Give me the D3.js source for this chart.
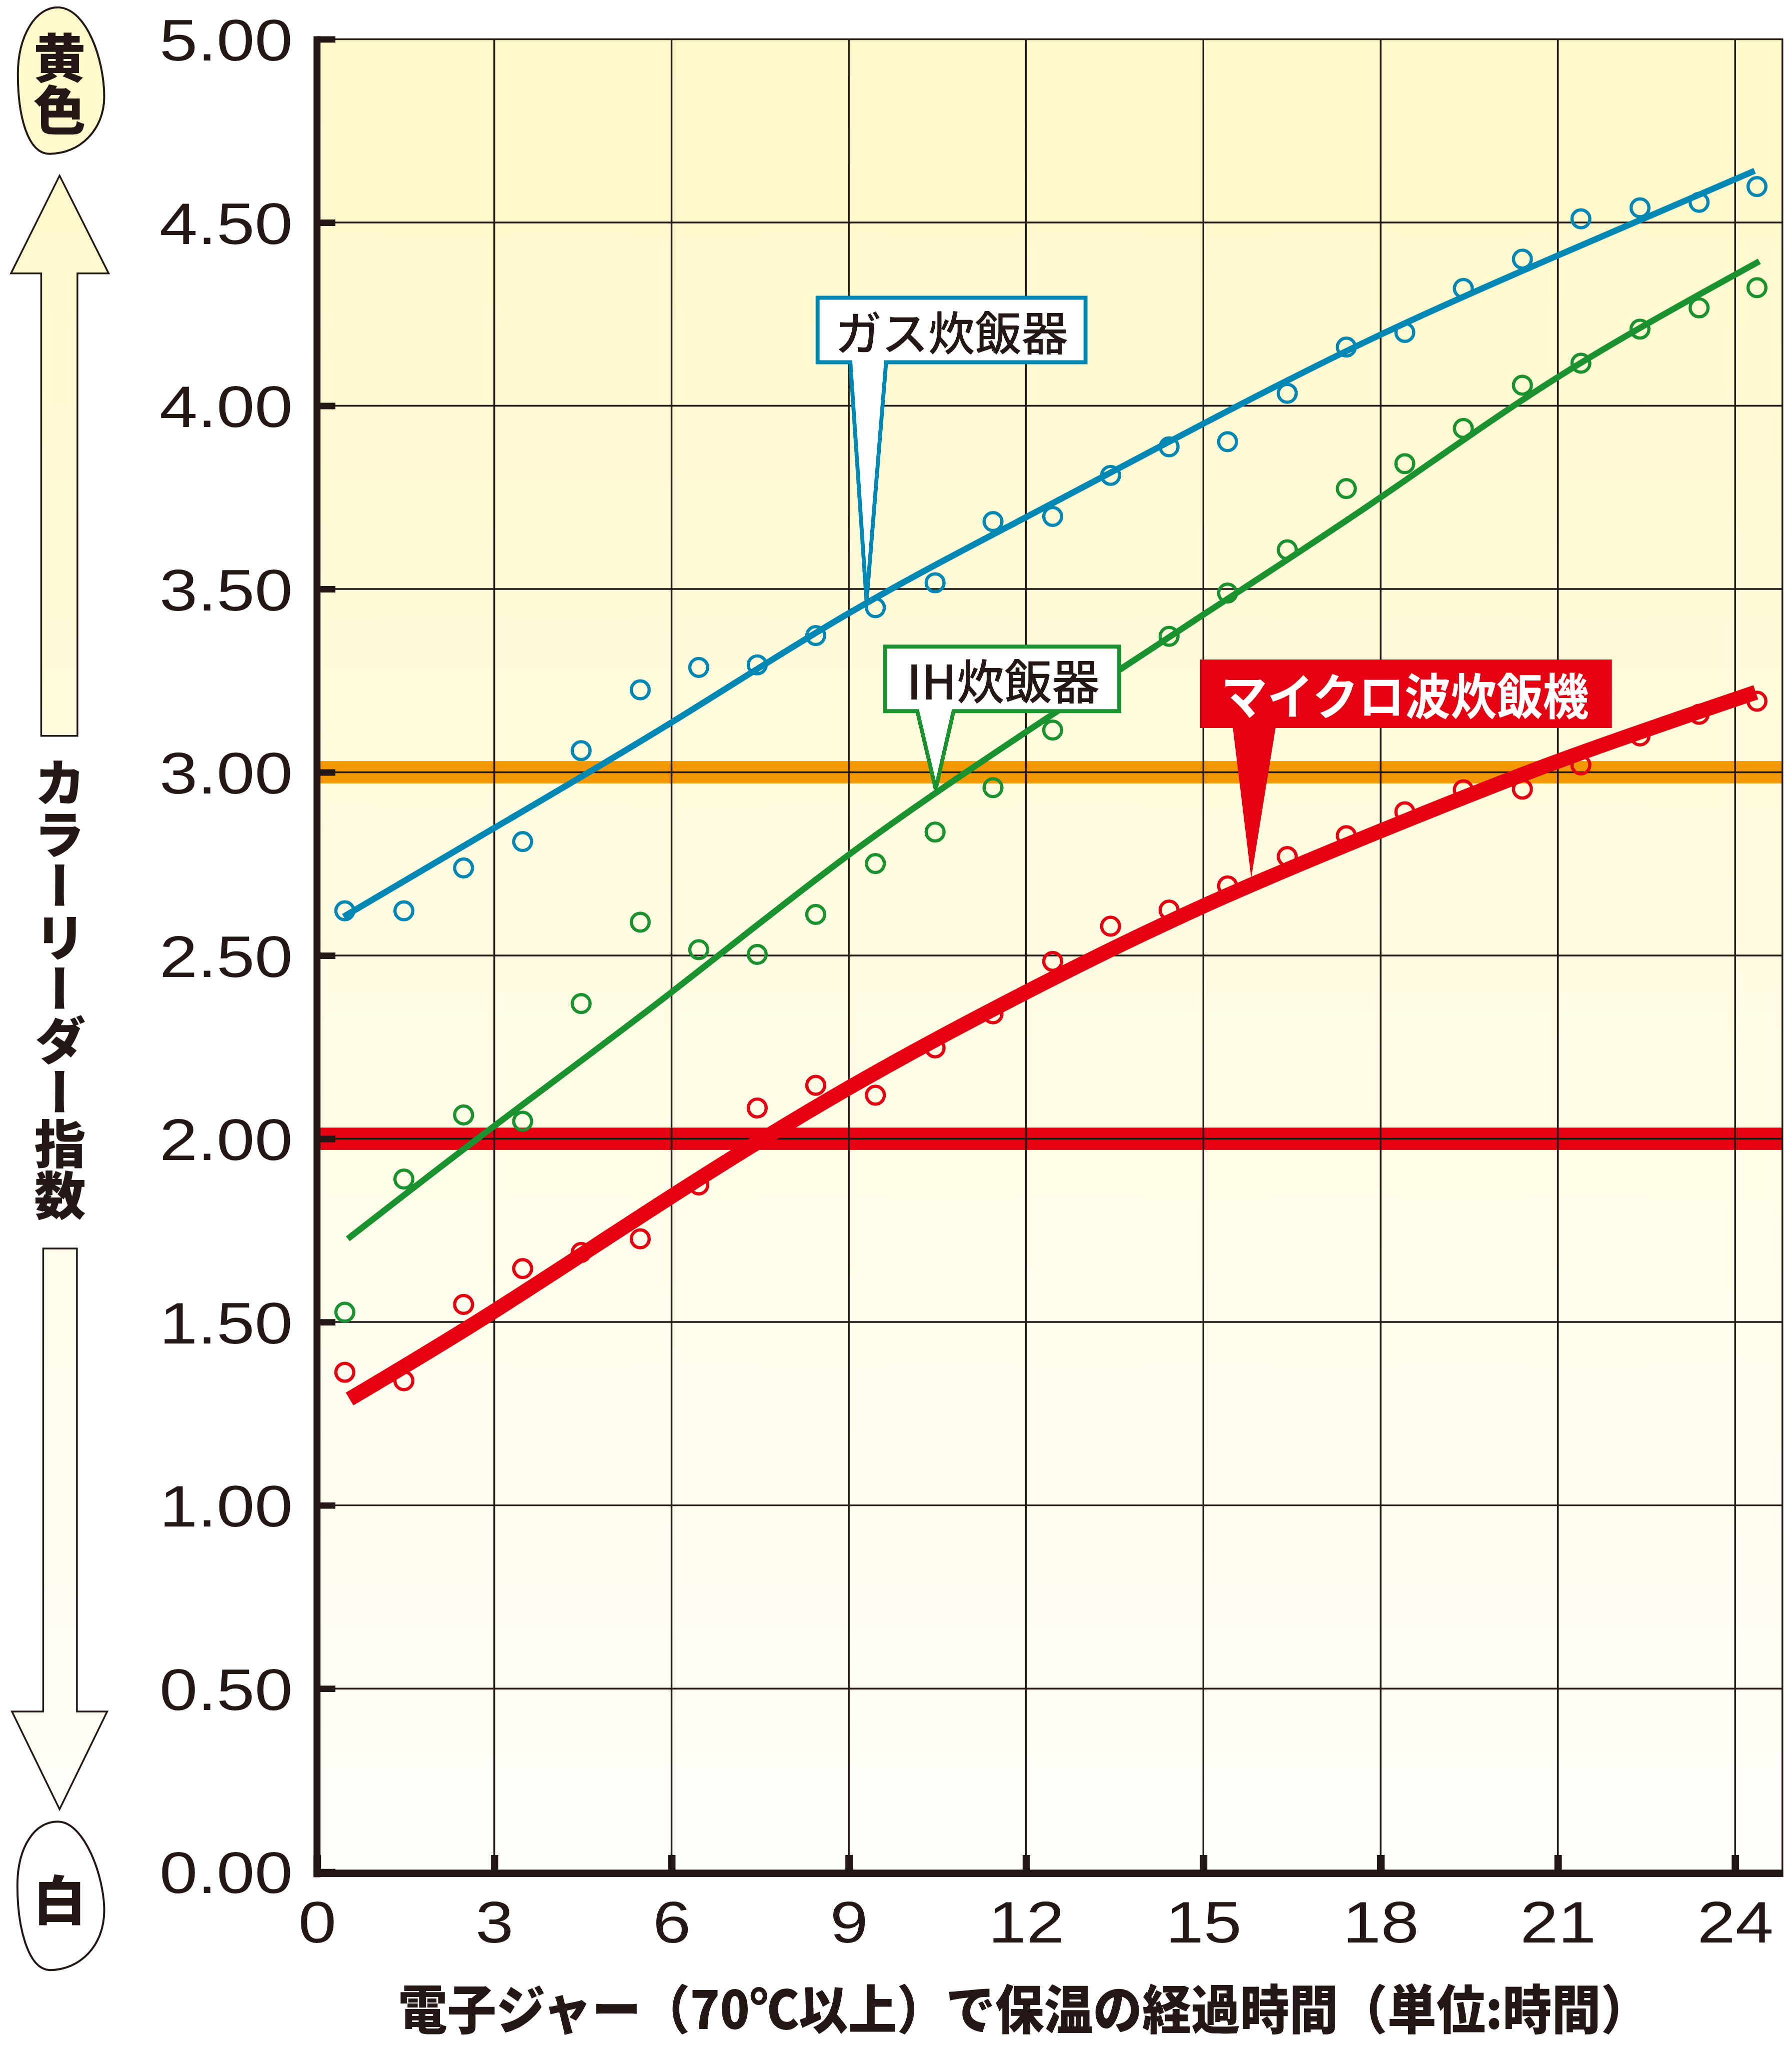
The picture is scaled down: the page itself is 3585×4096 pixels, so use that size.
<!DOCTYPE html>
<html><head><meta charset="utf-8">
<script src="https://cdn.jsdelivr.net/npm/d3@7"></script>
<style>html,body{margin:0;padding:0;background:#fff;overflow:hidden}</style>
</head><body>
<script>
// ---------- data ----------
const hours = [0.47,1.47,2.48,3.48,4.47,5.47,6.46,7.45,8.44,9.45,10.46,11.44,12.45,13.43,14.42,15.41,16.42,17.42,18.41,19.40,20.40,21.39,22.39,23.39,24.37];
const gasValues = [2.622,2.622,2.739,2.811,3.059,3.225,3.286,3.293,3.373,3.449,3.517,3.684,3.698,3.810,3.888,3.902,4.034,4.160,4.200,4.320,4.400,4.510,4.540,4.555,4.598];
const ihValues = [1.527,1.890,2.065,2.048,2.369,2.591,2.516,2.503,2.612,2.751,2.837,2.958,3.115,3.255,3.371,3.489,3.607,3.774,3.842,3.938,4.056,4.116,4.209,4.267,4.322];
const microValues = [1.363,1.340,1.548,1.646,1.690,1.727,1.874,2.084,2.146,2.119,2.248,2.341,2.484,2.580,2.624,2.690,2.770,2.827,2.892,2.952,2.954,3.020,3.099,3.158,3.194];

const gasFitHours = [0.45,3,6,9,12,15,18,21,24.33];
const gasFitValues = [2.606,2.848,3.136,3.434,3.696,3.951,4.194,4.410,4.641];
const ihFitHours = [0.52,3,6,9,12,15,18,21,24.41];
const ihFitValues = [1.727,2.035,2.400,2.775,3.110,3.430,3.750,4.078,4.394];
const microFitHours = [0.55,3,6,9,12,15,18,21,24.35];
const microFitValues = [1.290,1.530,1.843,2.139,2.400,2.635,2.840,3.030,3.218];

const seriesNames = ["ガス炊飯器","IH炊飯器","マイクロ波炊飯機"];
const calloutTips = [[9.30,3.466],[10.47,2.954],[15.81,2.711]]; // [hour, value]
const refLevels = [3.0, 2.0];
const yTickValues = [0,0.5,1,1.5,2,2.5,3,3.5,4,4.5,5];
const xTickValues = [0,3,6,9,12,15,18,21,24];
const xTitle = "電子ジャー（70℃以上）で保温の経過時間（単位:時間）";
const yTitle = "カラーリーダー指数";
const topWord = "黄色";
const bottomWord = "白";

// ---------- setup ----------
const W = 3612, H = 4127;
const INK = "#231815", BLUE = "#0087B3", GREEN = "#1A922F", RED = "#E50012", ORANGE = "#F39800";
const CJK = "'Noto Sans CJK JP', 'Noto Sans CJK SC', sans-serif";
const NUM = "'Liberation Sans', Arial, sans-serif";

const svg = d3.select("body").append("svg")
  .attr("width", 3585).attr("height", 4096)
  .attr("viewBox", `0 0 ${W} ${H}`);

const x = d3.scaleLinear().domain([0, 24.8]).range([639, 3592.7]);
const y = d3.scaleLinear().domain([0, 5]).range([3772, 79]);
const X0 = x(0), X1 = x(24.8), YT = y(5), YB = 3775;

const defs = svg.append("defs");
const grad = defs.append("linearGradient").attr("id", "bg")
  .attr("gradientUnits", "userSpaceOnUse").attr("x1", 0).attr("y1", YT).attr("x2", 0).attr("y2", YB);
grad.append("stop").attr("offset", 0).attr("stop-color", "#FFF8C9");
grad.append("stop").attr("offset", 0.5).attr("stop-color", "#FFFCE2");
grad.append("stop").attr("offset", 1).attr("stop-color", "#FFFEFA");

// plot background
svg.append("rect").attr("x", X0).attr("y", YT).attr("width", X1 - X0).attr("height", YB - YT).attr("fill", "url(#bg)");

// reference bands
const bandColors = [ORANGE, RED];
svg.selectAll(".band").data(refLevels).join("rect").attr("class", "band")
  .attr("x", X0).attr("width", X1 - X0)
  .attr("y", d => y(d) - 22.5).attr("height", 45)
  .attr("fill", (d, i) => bandColors[i]);

// grid
const grid = svg.append("g").attr("stroke", INK).attr("stroke-width", 3.5);
grid.selectAll(".hg").data(yTickValues.filter(v => v > 0 && v < 5)).join("line")
  .attr("x1", X0).attr("x2", X1).attr("y1", d => y(d)).attr("y2", d => y(d));
grid.selectAll(".vg").data(xTickValues.filter(v => v > 0)).join("line")
  .attr("y1", YT).attr("y2", YB).attr("x1", d => x(d)).attr("x2", d => x(d));
// top & right border
grid.append("line").attr("x1", X0).attr("x2", X1 + 1.5).attr("y1", YT).attr("y2", YT);
grid.append("line").attr("x1", X1).attr("x2", X1).attr("y1", YT).attr("y2", YB + 7);

// axes
const yAxis = d3.axisLeft(y).tickValues(yTickValues).tickSize(-37).tickPadding(0)
  .tickFormat(d3.format(".2f"));
const gy = svg.append("g").attr("transform", `translate(${X0},0)`).call(yAxis);
gy.select(".domain").remove();
gy.selectAll(".tick line").attr("stroke", INK).attr("stroke-width", 13);
gy.selectAll(".tick text").attr("font-family", NUM).attr("font-size", 118).attr("fill", INK)
  .attr("x", -49 / 1.17).attr("dy", "0.36em").attr("transform", "scale(1.17,1)");

const xAxis = d3.axisBottom(x).tickValues(xTickValues).tickSize(-37).tickPadding(56)
  .tickFormat(d3.format("d"));
const gx = svg.append("g").attr("transform", `translate(0,${YB})`).call(xAxis);
gx.select(".domain").remove();
gx.selectAll(".tick line").attr("stroke", INK).attr("stroke-width", 15);
gx.selectAll(".tick text").attr("font-family", NUM).attr("font-size", 118).attr("fill", INK)
  .attr("transform", "scale(1.17,1)");

// thick axis lines
svg.append("line").attr("x1", X0).attr("x2", X0).attr("y1", YT - 6).attr("y2", YB + 8)
  .attr("stroke", INK).attr("stroke-width", 14);
svg.append("line").attr("x1", X0 - 7).attr("x2", X1 + 1.5).attr("y1", YB).attr("y2", YB)
  .attr("stroke", INK).attr("stroke-width", 15);

// ---------- series ----------
const series = [
  {values: gasValues, fitH: gasFitHours, fitV: gasFitValues, color: BLUE, w: 12.5},
  {values: ihValues, fitH: ihFitHours, fitV: ihFitValues, color: GREEN, w: 12.5},
  {values: microValues, fitH: microFitHours, fitV: microFitValues, color: RED, w: 30}
];
const line = d3.line().x(d => x(d[0])).y(d => y(d[1])).curve(d3.curveNatural);

series.forEach(s => {
  svg.append("g").selectAll("circle").data(hours.map((h, i) => [h, s.values[i]])).join("circle")
    .attr("cx", d => x(d[0])).attr("cy", d => y(d[1])).attr("r", 18)
    .attr("fill", "none").attr("stroke", s.color).attr("stroke-width", 6.5);
});
series.forEach(s => {
  svg.append("path").datum(s.fitH.map((h, i) => [h, s.fitV[i]]))
    .attr("d", line).attr("fill", "none").attr("stroke", s.color)
    .attr("stroke-width", s.w).attr("stroke-linecap", "butt");
});

// ---------- callouts ----------
function callout(box, tailL, tailR, tip, fill, stroke, sw) {
  const [bx0, by0, bx1, by1] = box;
  const p = `M${bx0},${by0}H${bx1}V${by1}H${tailR}L${tip[0]},${tip[1]}L${tailL},${by1}H${bx0}Z`;
  svg.append("path").attr("d", p).attr("fill", fill)
    .attr("stroke", stroke).attr("stroke-width", sw).attr("stroke-linejoin", "miter");
}
const tipPx = calloutTips.map(t => [x(t[0]), y(t[1])]);

callout([1648, 600, 2188, 730], 1714, 1786, tipPx[0], "#fff", BLUE, 8);
svg.append("text").attr("x", 1918).attr("y", 665).attr("text-anchor", "middle")
  .attr("dominant-baseline", "central").attr("font-family", CJK).attr("font-weight", 500)
  .attr("font-size", 94).attr("fill", INK).text(seriesNames[0]);

callout([1784, 1303, 2256, 1433], 1849, 1922, tipPx[1], "#fff", GREEN, 8);
svg.append("text").attr("x", 2022).attr("y", 1367).attr("text-anchor", "middle")
  .attr("dominant-baseline", "central").attr("font-family", CJK).attr("font-weight", 500)
  .attr("font-size", 96).attr("fill", INK).text(seriesNames[1]);

callout([2419, 1329, 3249, 1467], 2485, 2571, tipPx[2], RED, "none", 0);
svg.append("text").attr("x", 2832).attr("y", 1397).attr("text-anchor", "middle")
  .attr("dominant-baseline", "central").attr("font-family", CJK).attr("font-weight", 700)
  .attr("font-size", 98).attr("fill", "#fff")
  .attr("textLength", 741).attr("lengthAdjust", "spacingAndGlyphs").text(seriesNames[2]);

// ---------- left side decorations ----------
svg.append("path")
  .attr("d", "M120,15 C175,20 210,120 210,195 C210,262 160,310 100,310 C55,310 36,232 36,150 C36,72 72,12 120,15 Z")
  .attr("fill", "#FFF9CC").attr("stroke", INK).attr("stroke-width", 4);
svg.append("text").attr("x", 120).attr("y", 64)
  .style("writing-mode", "vertical-rl")
  .attr("font-family", CJK).attr("font-weight", 900).attr("font-size", 105).attr("fill", INK)
  .text(topWord);

svg.append("path")
  .attr("d", "M120,354 L219,551 L156,551 L156,1483 L83,1483 L83,551 L22,551 Z")
  .attr("fill", "url(#bg)").attr("stroke", INK).attr("stroke-width", 3.5).attr("stroke-linejoin", "miter");
svg.append("path")
  .attr("d", "M87,2516 L155,2516 L155,3449 L216,3449 L120,3646 L24,3449 L87,3449 Z")
  .attr("fill", "url(#bg)").attr("stroke", INK).attr("stroke-width", 3.5).attr("stroke-linejoin", "miter");

svg.append("text").attr("x", 121).attr("y", 1525)
  .style("writing-mode", "vertical-rl")
  .attr("font-family", CJK).attr("font-weight", 900).attr("font-size", 104).attr("fill", INK)
  .text(yTitle);

svg.append("path")
  .attr("d", "M120,3671 C170,3675 210,3780 210,3850 C210,3922 160,3970 100,3970 C55,3968 35,3880 35,3800 C35,3722 70,3668 120,3671 Z")
  .attr("fill", "#fff").attr("stroke", INK).attr("stroke-width", 4);
svg.append("text").attr("x", 120).attr("y", 3823).attr("text-anchor", "middle")
  .attr("dominant-baseline", "central").attr("font-family", CJK).attr("font-weight", 900)
  .attr("font-size", 106).attr("fill", INK).text(bottomWord);

// ---------- x title ----------
svg.append("text").attr("x", 2064).attr("y", 4042).attr("text-anchor", "middle")
  .attr("dominant-baseline", "central").attr("font-family", CJK).attr("font-weight", 900)
  .attr("font-size", 106).attr("fill", INK)
  .attr("textLength", 2523).attr("lengthAdjust", "spacingAndGlyphs").text(xTitle);
</script>
</body></html>
